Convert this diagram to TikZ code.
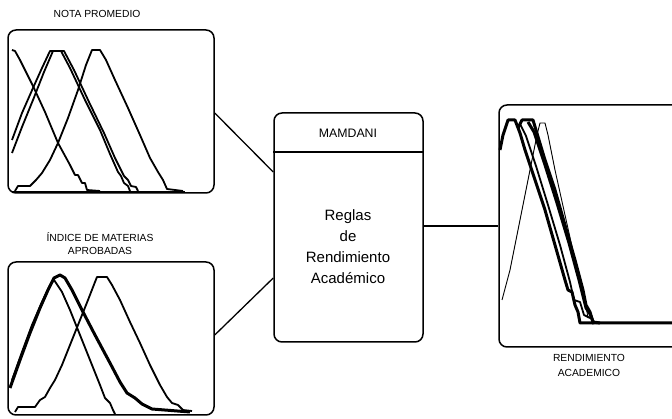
\documentclass[tikz,border=0pt]{standalone}
\usepackage{fontspec}
\setmainfont{Liberation Sans}
\begin{document}
\begin{tikzpicture}[x=1pt,y=-1pt,
  box/.style={draw,line width=1.5pt,rounded corners=8pt,inner sep=0pt},
  conn/.style={line width=1.3pt},
  mf/.style={line width=1.8pt,line join=round},
  mfthick/.style={line width=3pt,line join=round},
  mfthin/.style={line width=0.9pt,line join=round},
  lbl/.style={font=\fontsize{10.3}{13.5}\selectfont,align=center,inner sep=0pt},
  rules/.style={font=\fontsize{15}{21}\selectfont,align=center,inner sep=0pt}]
\useasboundingbox (0,0) rectangle (672,419);
% boxes
\node[box,minimum width=206pt,minimum height=163pt] (tl) at (111,111.5) {};
\node[box,minimum width=206pt,minimum height=153pt] (bl) at (111,338.5) {};
\node[box,minimum width=149pt,minimum height=229pt] (mid) at (348.5,227.5) {};
\node[box,minimum width=190pt,minimum height=242pt] (rb) at (594,226) {};
\coordinate (hdr) at (0,152);
\draw[line width=1.5pt] (mid.west |- hdr) -- (mid.east |- hdr);
% labels
\node[lbl] (t1) at (97,14) {NOTA PROMEDIO};
\node[lbl] (t2) at (100,243.5) {ÍNDICE DE MATERIAS\\APROBADAS};
\node[inner sep=0pt,font=\fontsize{12.3}{14}\selectfont] (t3) at (348,133) {MAMDANI};
\node[rules] (t4) at (348,247) {Reglas\\de\\Rendimiento\\Académico};
\node[lbl,font=\fontsize{10.3}{15}\selectfont] (t5) at (589,365.5) {RENDIMIENTO\\ACADEMICO};
% connectors
\draw[conn] ([yshift=-1.5pt]tl.east) -- ([yshift=55.5pt]mid.west);
\draw[conn] ([yshift=3.5pt]bl.east) -- ([yshift=-50.5pt]mid.west);
\draw[conn] (rb.west -| mid.east) -- (rb.west);
% top-left membership functions
\draw[mf] (12,50) -- (15,51) -- (20,60) -- (33,86) -- (45,112) -- (58,143) -- (70,165) -- (75,175) -- (78,175) -- (82,183) -- (85,183) -- (87,190) -- (100,191);
\draw[mf] (12,140) -- (22,113) -- (33,88) -- (42,68) -- (50,51) -- (61,51) -- (70,68) -- (85,100) -- (100,130) -- (110,154) -- (118,172) -- (121,176) -- (124,183) -- (128,186) -- (130,191);
\draw[mf] (12,153) -- (22,127) -- (33,100) -- (44,72) -- (53,51) -- (64,51) -- (74,70) -- (89,102) -- (104,133) -- (115,158) -- (124,176) -- (128,180) -- (131,186) -- (136,187) -- (138,191);
\draw[mf] (15,191) -- (18,186) -- (30,186) -- (36,180) -- (42,173) -- (50,160) -- (58,143) -- (68,118) -- (78,90) -- (86,65) -- (92,50) -- (100,50) -- (106,60) -- (115,80) -- (128,108) -- (140,135) -- (150,158) -- (158,172) -- (163,180) -- (167,189) -- (183,191);
\draw[mf] (12,192) -- (185,192);
% bottom-left membership functions
\draw[mf] (12,380) -- (22,352) -- (32,325) -- (42,302) -- (50,285) -- (54,280) -- (62,292) -- (70,310) -- (80,335) -- (90,360) -- (100,385) -- (105,398) -- (110,403) -- (113,410) -- (115,414);
\draw[mfthick] (10,388) -- (20,360) -- (30,333) -- (40,308) -- (48,290) -- (54,278) -- (60,275) -- (65,278) -- (72,290) -- (82,310) -- (95,335) -- (110,363) -- (120,382) -- (127,393) -- (135,398) -- (142,404) -- (152,409) -- (190,412);
\draw[mf] (15,412) -- (18,407) -- (35,407) -- (40,400) -- (45,397) -- (50,388) -- (55,380) -- (62,365) -- (70,345) -- (78,325) -- (88,300) -- (95,282) -- (97,277) -- (107,277) -- (112,285) -- (120,300) -- (130,322) -- (140,343) -- (150,365) -- (160,385) -- (167,397) -- (172,403) -- (178,405) -- (183,410) -- (192,411);
% right membership functions
\draw[mfthin] (502,300) -- (510,270) -- (520,220) -- (530,170) -- (537,135) -- (540,123) -- (545,123) -- (548,135) -- (555,170) -- (565,215) -- (575,260) -- (585,300) -- (588,318);
\draw[mfthick] (500,150) -- (503,135) -- (508,120) -- (515,120) -- (520,133) -- (525,150) -- (535,180) -- (545,210) -- (555,245) -- (565,280) -- (568,290) -- (572,292) -- (575,305) -- (578,312) -- (580,323) -- (672,323);
\draw[mfthick] (518,128) -- (522,120) -- (533,120) -- (536,130) -- (545,160) -- (555,190) -- (565,225) -- (575,260) -- (583,290) -- (586,305) -- (590,312) -- (593,322) -- (600,323);
\draw[mfthick] (528,122) -- (534,132) -- (545,165) -- (557,203) -- (569,243) -- (579,280) -- (586,308) -- (590,314) -- (594,324);
\draw[mf] (520,124) -- (526,136) -- (536,166) -- (548,205) -- (560,245) -- (570,282) -- (574,300) -- (580,302) -- (584,315) -- (590,318);
\end{tikzpicture}
\end{document}
